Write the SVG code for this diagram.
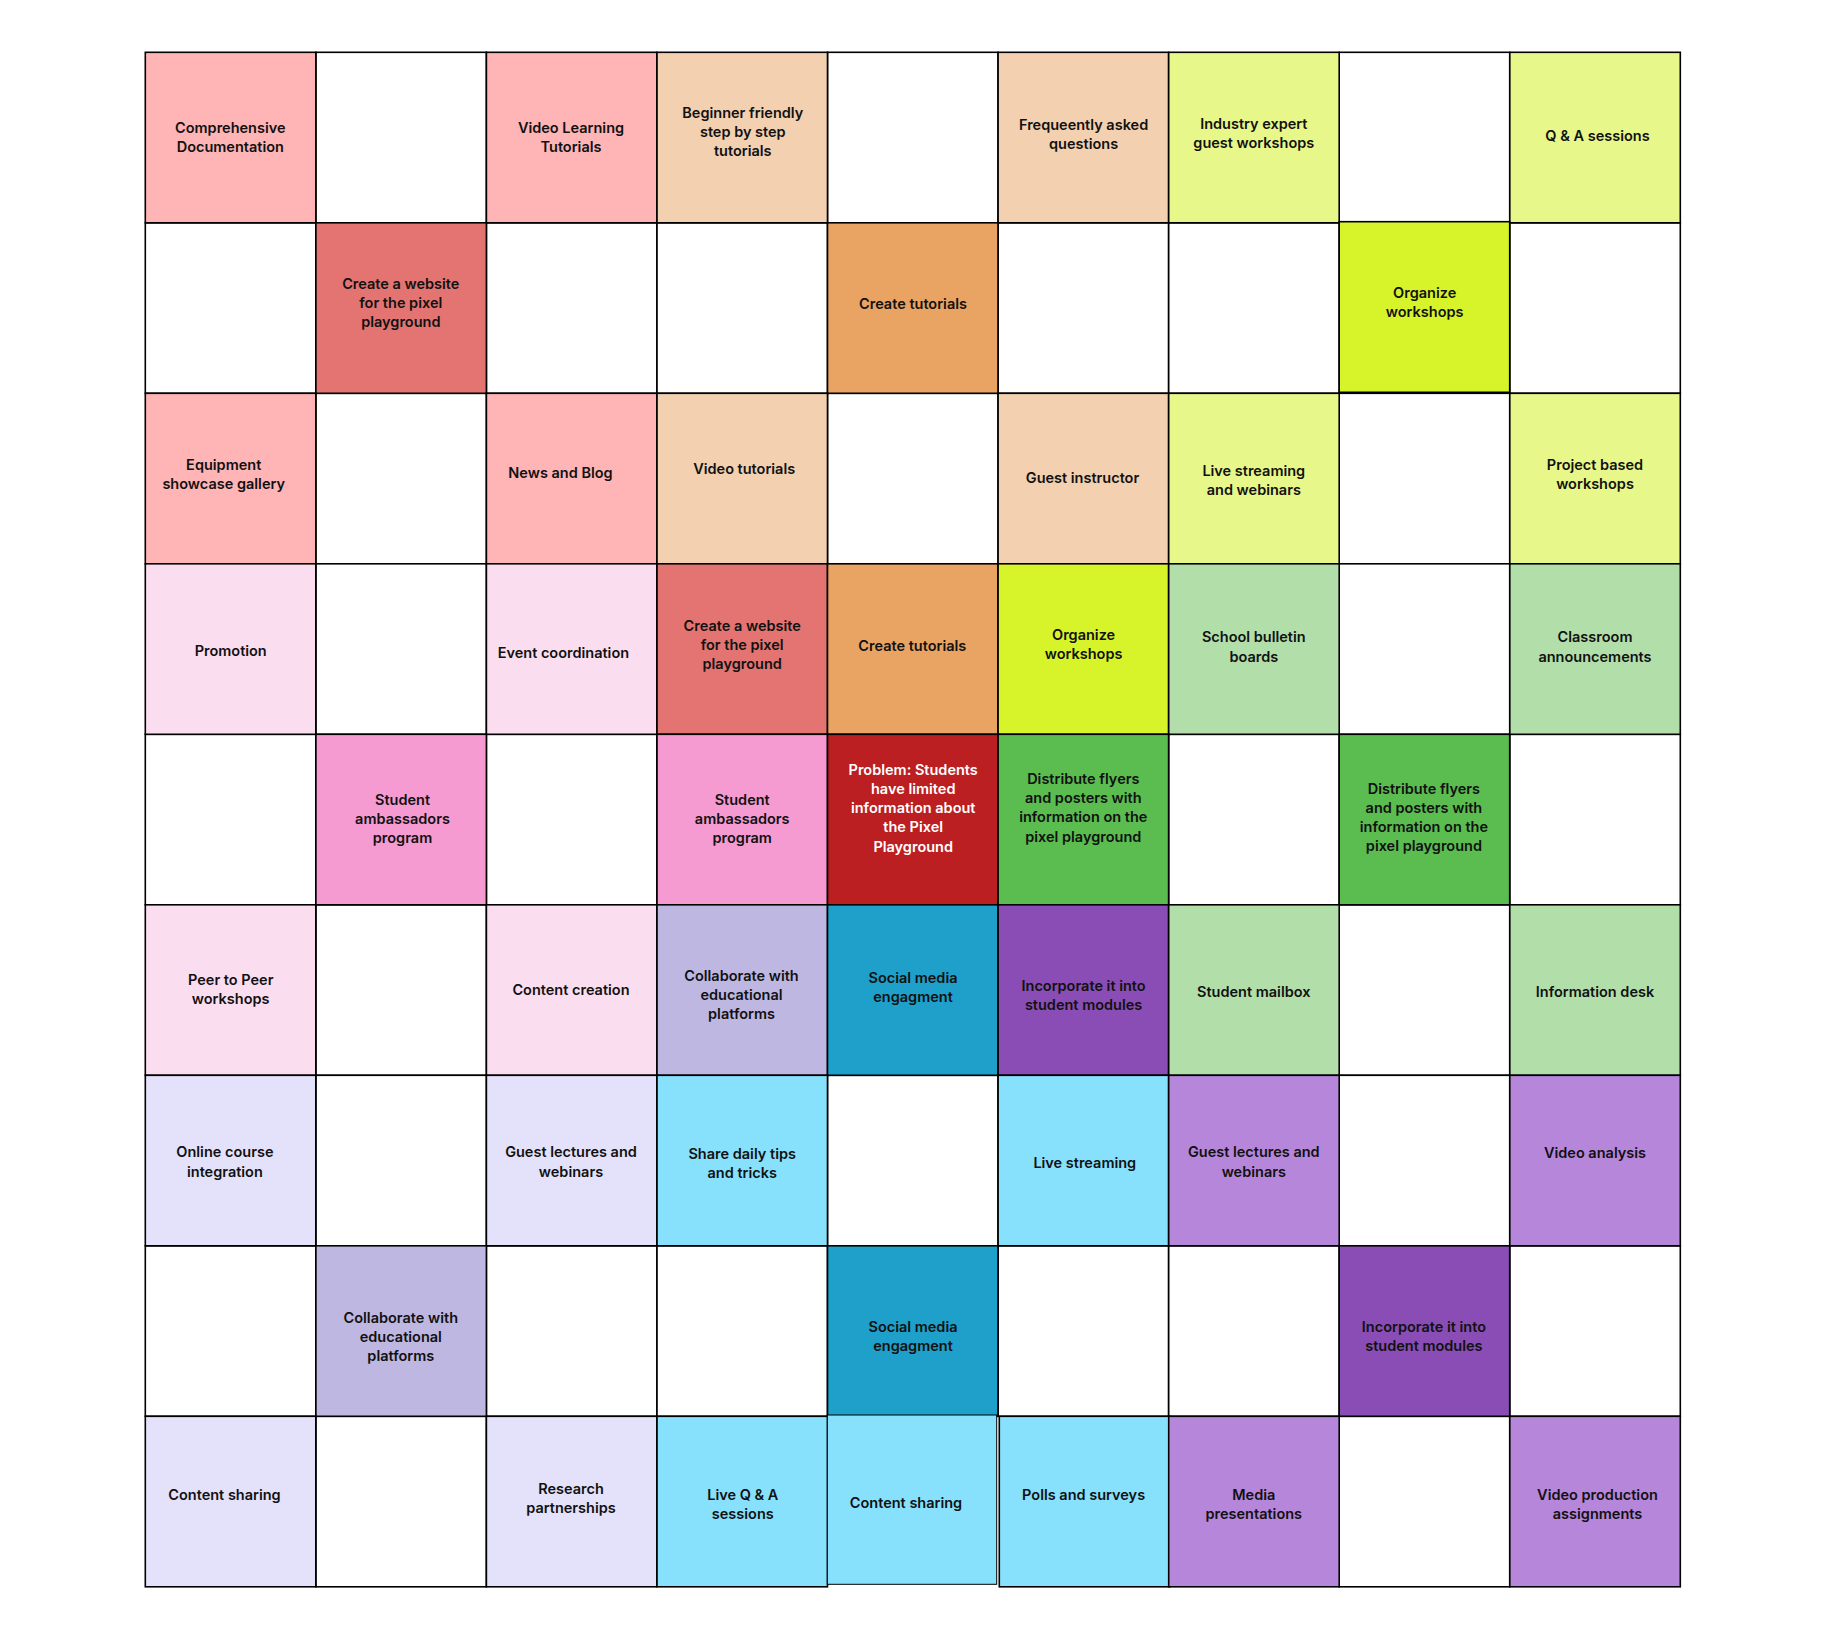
<svg xmlns="http://www.w3.org/2000/svg" width="1827" height="1640" viewBox="0 0 1827 1640">
<style>
rect.c{stroke:#000;stroke-width:1.6}
text{font-family:Inter,"Liberation Sans",sans-serif;font-weight:600;font-size:14.5px;fill:#111;text-anchor:middle}
text.w{fill:#fff}
.wh{fill:#fff}.pk{fill:#FFB5B5}.rp{fill:#E37472}.pe{fill:#F2D0B0}.or{fill:#E9A363}
.ll{fill:#E8F78A}.bl{fill:#D7F42B}.lp{fill:#FBDDF0}.hp{fill:#F59BD2}.dr{fill:#BB1F21}
.gr{fill:#5BBD50}.lg{fill:#B2DFA9}.lv{fill:#BEB7E1}.bu{fill:#1FA0CB}.pu{fill:#894DB5}
.vl{fill:#E4E2FB}.cy{fill:#87E1FD}.pl{fill:#B686DB}
</style>
<rect width="1827" height="1640" fill="#fff"/>
<g id="empty-cells">
<rect class="c wh" x="315.9" y="52.3" width="170.5" height="170.5"/>
<rect class="c wh" x="827.5" y="52.3" width="170.5" height="170.5"/>
<rect class="c wh" x="1339.2" y="52.3" width="170.5" height="170.5"/>
<rect class="c wh" x="145.3" y="222.8" width="170.5" height="170.5"/>
<rect class="c wh" x="486.4" y="222.8" width="170.5" height="170.5"/>
<rect class="c wh" x="657" y="222.8" width="170.5" height="170.5"/>
<rect class="c wh" x="998.1" y="222.8" width="170.5" height="170.5"/>
<rect class="c wh" x="1168.7" y="222.8" width="170.5" height="170.5"/>
<rect class="c wh" x="1509.8" y="222.8" width="170.5" height="170.5"/>
<rect class="c wh" x="315.9" y="393.3" width="170.5" height="170.5"/>
<rect class="c wh" x="827.5" y="393.3" width="170.5" height="170.5"/>
<rect class="c wh" x="1339.2" y="393.3" width="170.5" height="170.5"/>
<rect class="c wh" x="315.9" y="563.8" width="170.5" height="170.5"/>
<rect class="c wh" x="1339.2" y="563.8" width="170.5" height="170.5"/>
<rect class="c wh" x="145.3" y="734.3" width="170.5" height="170.5"/>
<rect class="c wh" x="486.4" y="734.3" width="170.5" height="170.5"/>
<rect class="c wh" x="1168.7" y="734.3" width="170.5" height="170.5"/>
<rect class="c wh" x="1509.8" y="734.3" width="170.5" height="170.5"/>
<rect class="c wh" x="315.9" y="904.8" width="170.5" height="170.5"/>
<rect class="c wh" x="1339.2" y="904.8" width="170.5" height="170.5"/>
<rect class="c wh" x="315.9" y="1075.3" width="170.5" height="170.5"/>
<rect class="c wh" x="827.5" y="1075.3" width="170.5" height="170.5"/>
<rect class="c wh" x="1339.2" y="1075.3" width="170.5" height="170.5"/>
<rect class="c wh" x="145.3" y="1245.8" width="170.5" height="170.5"/>
<rect class="c wh" x="486.4" y="1245.8" width="170.5" height="170.5"/>
<rect class="c wh" x="657" y="1245.8" width="170.5" height="170.5"/>
<rect class="c wh" x="998.1" y="1245.8" width="170.5" height="170.5"/>
<rect class="c wh" x="1168.7" y="1245.8" width="170.5" height="170.5"/>
<rect class="c wh" x="1509.8" y="1245.8" width="170.5" height="170.5"/>
<rect class="c wh" x="315.9" y="1416.3" width="170.5" height="170.5"/>
<rect class="c wh" x="1339.2" y="1416.3" width="170.5" height="170.5"/>
</g>
<g id="nodes">
<!-- Row 0 -->
<g id="r0c0"><rect class="c pk" x="145.3" y="52.3" width="170.5" height="170.5"/><text x="230.3" y="133.1">Comprehensive<tspan x="230.3" dy="19.2">Documentation</tspan></text></g>
<g id="r0c2"><rect class="c pk" x="486.4" y="52.3" width="170.5" height="170.5"/><text x="571" y="133.1">Video Learning<tspan x="571" dy="19.2">Tutorials</tspan></text></g>
<g id="r0c3"><rect class="c pe" x="657" y="52.3" width="170.5" height="170.5"/><text x="742.8" y="118">Beginner friendly<tspan x="742.8" dy="19.2">step by step</tspan><tspan x="742.8" dy="19.2">tutorials</tspan></text></g>
<g id="r0c5"><rect class="c pe" x="998.1" y="52.3" width="170.5" height="170.5"/><text x="1083.6" y="129.6">Frequeently asked<tspan x="1083.6" dy="19.2">questions</tspan></text></g>
<g id="r0c6"><rect class="c ll" x="1168.7" y="52.3" width="170.5" height="170.5"/><text x="1253.8" y="128.6">Industry expert<tspan x="1253.8" dy="19.2">guest workshops</tspan></text></g>
<g id="r0c8"><rect class="c ll" x="1509.8" y="52.3" width="170.5" height="170.5"/><text x="1597.5" y="141.2">Q &amp; A sessions</text></g>
<!-- Row 1 -->
<g id="r1c1"><rect class="c rp" x="315.9" y="222.8" width="170.5" height="170.5"/><text x="400.8" y="289">Create a website<tspan x="400.8" dy="19.2">for the pixel</tspan><tspan x="400.8" dy="19.2">playground</tspan></text></g>
<g id="r1c4"><rect class="c or" x="827.5" y="222.8" width="170.5" height="170.5"/><text x="913" y="308.5">Create tutorials</text></g>
<g id="r1c7"><rect class="c bl" x="1339.2" y="221.7" width="170.5" height="170.6"/><text x="1424.7" y="297.9">Organize<tspan x="1424.7" dy="19.2">workshops</tspan></text></g>
<!-- Row 2 -->
<g id="r2c0"><rect class="c pk" x="145.3" y="393.3" width="170.5" height="170.5"/><text x="223.7" y="469.6">Equipment<tspan x="223.7" dy="19.2">showcase gallery</tspan></text></g>
<g id="r2c2"><rect class="c pk" x="486.4" y="393.3" width="170.5" height="170.5"/><text x="560.5" y="478.2">News and Blog</text></g>
<g id="r2c3"><rect class="c pe" x="657" y="393.3" width="170.5" height="170.5"/><text x="744.2" y="473.9">Video tutorials</text></g>
<g id="r2c5"><rect class="c pe" x="998.1" y="393.3" width="170.5" height="170.5"/><text x="1082.5" y="483.2">Guest instructor</text></g>
<g id="r2c6"><rect class="c ll" x="1168.7" y="393.3" width="170.5" height="170.5"/><text x="1253.8" y="475.6">Live streaming<tspan x="1253.8" dy="19.2">and webinars</tspan></text></g>
<g id="r2c8"><rect class="c ll" x="1509.8" y="393.3" width="170.5" height="170.5"/><text x="1595" y="469.6">Project based<tspan x="1595" dy="19.2">workshops</tspan></text></g>
<!-- Row 3 -->
<g id="r3c0"><rect class="c lp" x="145.3" y="563.8" width="170.5" height="170.5"/><text x="230.7" y="656.2">Promotion</text></g>
<g id="r3c2"><rect class="c lp" x="486.4" y="563.8" width="170.5" height="170.5"/><text x="563.4" y="657.7">Event coordination</text></g>
<g id="r3c3"><rect class="c rp" x="657" y="563.8" width="170.5" height="170.5"/><text x="742.2" y="631">Create a website<tspan x="742.2" dy="19.2">for the pixel</tspan><tspan x="742.2" dy="19.2">playground</tspan></text></g>
<g id="r3c4"><rect class="c or" x="827.5" y="563.8" width="170.5" height="170.5"/><text x="912.3" y="650.7">Create tutorials</text></g>
<g id="r3c5"><rect class="c bl" x="998.1" y="563.8" width="170.5" height="170.5"/><text x="1083.6" y="639.6">Organize<tspan x="1083.6" dy="19.2">workshops</tspan></text></g>
<g id="r3c6"><rect class="c lg" x="1168.7" y="563.8" width="170.5" height="170.5"/><text x="1253.8" y="642.3">School bulletin<tspan x="1253.8" dy="19.2">boards</tspan></text></g>
<g id="r3c8"><rect class="c lg" x="1509.8" y="563.8" width="170.5" height="170.5"/><text x="1595" y="642.3">Classroom<tspan x="1595" dy="19.2">announcements</tspan></text></g>
<!-- Row 4 -->
<g id="r4c1"><rect class="c hp" x="315.9" y="734.3" width="170.5" height="170.5"/><text x="402.5" y="805">Student<tspan x="402.5" dy="19.2">ambassadors</tspan><tspan x="402.5" dy="19.2">program</tspan></text></g>
<g id="r4c3"><rect class="c hp" x="657" y="734.3" width="170.5" height="170.5"/><text x="742.2" y="805">Student<tspan x="742.2" dy="19.2">ambassadors</tspan><tspan x="742.2" dy="19.2">program</tspan></text></g>
<g id="r4c4"><rect class="c dr" x="827.5" y="734.3" width="170.5" height="170.5"/><text class="w" x="913.2" y="774.8">Problem: Students<tspan x="913.2" dy="19.2">have limited</tspan><tspan x="913.2" dy="19.2">information about</tspan><tspan x="913.2" dy="19.2">the Pixel</tspan><tspan x="913.2" dy="19.2">Playground</tspan></text></g>
<g id="r4c5"><rect class="c gr" x="998.1" y="734.3" width="170.5" height="170.5"/><text x="1083.3" y="783.9">Distribute flyers<tspan x="1083.3" dy="19.2">and posters with</tspan><tspan x="1083.3" dy="19.2">information on the</tspan><tspan x="1083.3" dy="19.2">pixel playground</tspan></text></g>
<g id="r4c7"><rect class="c gr" x="1339.2" y="734.3" width="170.5" height="170.5"/><text x="1423.9" y="793.8">Distribute flyers<tspan x="1423.9" dy="19.2">and posters with</tspan><tspan x="1423.9" dy="19.2">information on the</tspan><tspan x="1423.9" dy="19.2">pixel playground</tspan></text></g>
<!-- Row 5 -->
<g id="r5c0"><rect class="c lp" x="145.3" y="904.8" width="170.5" height="170.5"/><text x="230.7" y="984.6">Peer to Peer<tspan x="230.7" dy="19.2">workshops</tspan></text></g>
<g id="r5c2"><rect class="c lp" x="486.4" y="904.8" width="170.5" height="170.5"/><text x="571" y="995.2">Content creation</text></g>
<g id="r5c3"><rect class="c lv" x="657" y="904.8" width="170.5" height="170.5"/><text x="741.5" y="981">Collaborate with<tspan x="741.5" dy="19.2">educational</tspan><tspan x="741.5" dy="19.2">platforms</tspan></text></g>
<g id="r5c4"><rect class="c bu" x="827.5" y="904.8" width="170.5" height="170.5"/><text x="913" y="982.8">Social media<tspan x="913" dy="19.2">engagment</tspan></text></g>
<g id="r5c5"><rect class="c pu" x="998.1" y="904.8" width="170.5" height="170.5"/><text x="1083.6" y="990.6">Incorporate it into<tspan x="1083.6" dy="19.2">student modules</tspan></text></g>
<g id="r5c6"><rect class="c lg" x="1168.7" y="904.8" width="170.5" height="170.5"/><text x="1253.8" y="996.8">Student mailbox</text></g>
<g id="r5c8"><rect class="c lg" x="1509.8" y="904.8" width="170.5" height="170.5"/><text x="1595" y="996.8">Information desk</text></g>
<!-- Row 6 -->
<g id="r6c0"><rect class="c vl" x="145.3" y="1075.3" width="170.5" height="170.5"/><text x="224.9" y="1157.3">Online course<tspan x="224.9" dy="19.2">integration</tspan></text></g>
<g id="r6c2"><rect class="c vl" x="486.4" y="1075.3" width="170.5" height="170.5"/><text x="571" y="1157.3">Guest lectures and<tspan x="571" dy="19.2">webinars</tspan></text></g>
<g id="r6c3"><rect class="c cy" x="657" y="1075.3" width="170.5" height="170.5"/><text x="742.2" y="1158.6">Share daily tips<tspan x="742.2" dy="19.2">and tricks</tspan></text></g>
<g id="r6c5"><rect class="c cy" x="998.1" y="1075.3" width="170.5" height="170.5"/><text x="1084.8" y="1168.2">Live streaming</text></g>
<g id="r6c6"><rect class="c pl" x="1168.7" y="1075.3" width="170.5" height="170.5"/><text x="1253.8" y="1157.3">Guest lectures and<tspan x="1253.8" dy="19.2">webinars</tspan></text></g>
<g id="r6c8"><rect class="c pl" x="1509.8" y="1075.3" width="170.5" height="170.5"/><text x="1595" y="1157.6">Video analysis</text></g>
<!-- Row 7 -->
<g id="r7c1"><rect class="c lv" x="315.9" y="1245.8" width="170.5" height="170.5"/><text x="400.8" y="1322.5">Collaborate with<tspan x="400.8" dy="19.2">educational</tspan><tspan x="400.8" dy="19.2">platforms</tspan></text></g>
<g id="r7c4"><rect class="c bu" x="827.5" y="1245.8" width="170.5" height="170.5"/><text x="913" y="1332.1">Social media<tspan x="913" dy="19.2">engagment</tspan></text></g>
<g id="r7c7"><rect class="c pu" x="1339.2" y="1245.8" width="170.5" height="170.5"/><text x="1423.9" y="1332.1">Incorporate it into<tspan x="1423.9" dy="19.2">student modules</tspan></text></g>
<!-- Row 8 -->
<g id="r8c0"><rect class="c vl" x="145.3" y="1416.3" width="170.5" height="170.5"/><text x="224.5" y="1500.2">Content sharing</text></g>
<g id="r8c2"><rect class="c vl" x="486.4" y="1416.3" width="170.5" height="170.5"/><text x="571" y="1494.1">Research<tspan x="571" dy="19.2">partnerships</tspan></text></g>
<g id="r8c3"><rect class="c cy" x="657" y="1416.3" width="170.5" height="170.5"/><text x="742.8" y="1500.1">Live Q &amp; A<tspan x="742.8" dy="19.2">sessions</tspan></text></g>
<g id="r8c5"><rect class="c cy" x="999.3" y="1416.3" width="170.5" height="170.5"/><text x="1083.6" y="1500.2">Polls and surveys</text></g>
<g id="r8c6"><rect class="c pl" x="1168.7" y="1416.3" width="170.5" height="170.5"/><text x="1253.8" y="1499.6">Media<tspan x="1253.8" dy="19.2">presentations</tspan></text></g>
<g id="r8c8"><rect class="c pl" x="1509.8" y="1416.3" width="170.5" height="170.5"/><text x="1597.5" y="1500.1">Video production<tspan x="1597.5" dy="19.2">assignments</tspan></text></g>
<g id="r8c4"><rect x="827.3" y="1415" width="169.4" height="169.3" fill="#87E1FD" stroke="#000" stroke-width="1"/><text x="906" y="1507.9">Content sharing</text></g>
</g>
<g id="connectors"/>
</svg>
